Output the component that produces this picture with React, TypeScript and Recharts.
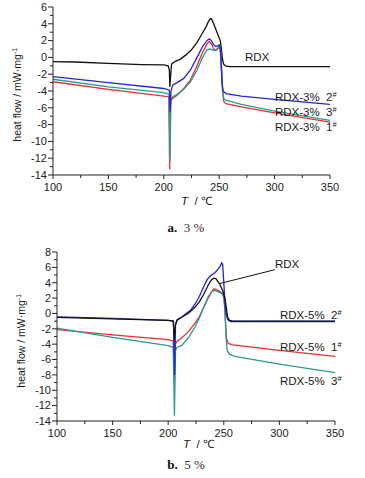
import React from 'react'
import { LineChart, Line, XAxis, YAxis, ReferenceLine } from 'recharts'

// x 轴刻度（主刻度 50，次刻度 25）
const X_TICKS = [100, 125, 150, 175, 200, 225, 250, 275, 300, 325, 350]
const Y_TICKS_A = Array.from({ length: 21 }, (_, i) => -14 + i)
const Y_TICKS_B = Array.from({ length: 23 }, (_, i) => -14 + i)

// ---- a. 3% ----
const T_A_RDX = [100, 120, 150, 180, 200, 204, 205, 205.5, 206, 207, 210, 215, 220, 225, 230, 234, 238, 240, 242, 243, 245, 248, 250, 251, 252, 253, 254, 256, 260, 300, 350]
const V_A_RDX = [-0.5, -0.55, -0.7, -0.85, -0.9, -1.0, -1.5, -3.5, -2.5, -0.8, -0.5, -0.2, 0.3, 0.9, 1.8, 2.7, 3.6, 4.2, 4.6, 4.6, 4.0, 3.0, 2.3, 2.0, 1.0, -0.2, -0.8, -1.05, -1.1, -1.1, -1.1]
const T_A_1 = [100, 150, 200, 204.5, 205.3, 206, 207, 208, 212, 218, 224, 230, 235, 239, 241, 243, 245, 247, 249, 251, 252, 253, 254, 256, 270, 300, 350]
const V_A_1 = [-2.9, -3.8, -4.6, -4.7, -13.3, -5.5, -5.0, -4.9, -4.5, -3.7, -2.7, -1.0, 0.6, 1.6, 1.9, 1.6, 1.0, 0.9, 1.1, 1.2, -1.0, -4.0, -5.2, -5.5, -5.9, -6.6, -7.7]
const T_A_2 = [100, 150, 200, 205, 205.8, 206.5, 208, 212, 218, 224, 230, 235, 239, 241, 243, 245, 247, 249, 250.5, 251.5, 252.5, 253.5, 256, 270, 300, 350]
const V_A_2 = [-2.3, -3.0, -3.7, -3.9, -6.5, -4.0, -3.3, -3.0, -2.5, -1.5, 0.0, 1.3, 2.0, 2.2, 2.0, 1.5, 1.3, 1.4, 1.5, 0.0, -3.0, -4.0, -4.3, -4.6, -5.0, -5.6]
const T_A_3 = [100, 150, 200, 204.8, 205.6, 206.4, 208, 212, 218, 224, 230, 235, 239, 242, 245, 248, 250, 251, 252, 253, 254, 256, 270, 300, 350]
const V_A_3 = [-2.6, -3.5, -4.2, -4.4, -12.4, -5.0, -4.7, -4.4, -3.8, -2.9, -1.5, 0.0, 0.9, 1.0, 0.8, 0.9, 1.4, 1.3, -1.0, -3.5, -4.9, -5.1, -5.6, -6.4, -7.5]

// ---- b. 5% ----
const T_B_RDX = [100, 150, 200, 204.5, 205.5, 206.5, 208, 212, 218, 224, 228, 232, 236, 239, 241, 243, 246, 249, 251, 252.5, 253.5, 255, 258, 350]
const V_B_RDX = [-0.5, -0.7, -0.9, -1.0, -3.5, -1.5, -0.8, -0.5, 0.0, 0.8, 1.5, 2.5, 3.7, 4.4, 4.6, 4.5, 3.9, 3.0, 2.0, 0.5, -0.5, -0.9, -1.0, -1.0]
const T_B_1 = [100, 150, 200, 204.5, 205.6, 206.5, 208, 212, 218, 224, 228, 232, 236, 239, 241, 243, 246, 249, 250.5, 251.5, 252.5, 254, 258, 300, 350]
const V_B_1 = [-2.1, -2.8, -3.4, -3.6, -9.0, -4.0, -3.6, -3.2, -2.4, -1.3, -0.4, 0.8, 2.0, 2.8, 3.2, 3.1, 2.9, 2.6, 1.5, -1.0, -3.3, -3.9, -4.1, -4.8, -5.6]
const T_B_2 = [100, 150, 200, 204.8, 205.7, 206.6, 208, 212, 216, 220, 224, 228, 232, 235, 238, 242, 245, 247, 248, 249, 250, 251, 252, 253.5, 256, 350]
const V_B_2 = [-0.45, -0.65, -0.9, -1.0, -8.0, -1.5, -0.9, -0.5, 0.0, 0.4, 1.2, 2.2, 3.5, 4.4, 4.9, 5.3, 5.8, 6.2, 6.6, 6.4, 4.0, 1.5, 0.0, -0.8, -1.05, -1.05]
const T_B_3 = [100, 150, 200, 204.5, 205.6, 206.6, 208, 212, 218, 224, 228, 232, 236, 239, 242, 245, 248, 250, 251, 252, 253, 255, 260, 300, 350]
const V_B_3 = [-1.9, -3.1, -4.2, -4.4, -13.3, -4.8, -4.4, -4.2, -3.2, -1.8, -0.6, 0.8, 2.2, 2.8, 3.0, 2.8, 2.6, 2.2, 0.5, -3.0, -4.8, -5.3, -5.6, -6.6, -7.7]

// RDX 引出线（数据坐标）
const LEADER_B = [{ x: 246.6, y: 3.9 }, { x: 296, y: 5.7 }]

const C_BLACK = '#111'
const C_RED = '#e8302e'
const C_BLUE = '#2323d8'
const C_TEAL = '#2a9a92'

const zip = (t: number[], v: number[]) => t.map((x, i) => ({ t: x, v: v[i] }))

type Series = { key: string; data: { t: number; v: number }[]; color: string }

const SERIES_A: Series[] = [
  { key: 'rdx', data: zip(T_A_RDX, V_A_RDX), color: C_BLACK },
  { key: 's1', data: zip(T_A_1, V_A_1), color: C_RED },
  { key: 's3', data: zip(T_A_3, V_A_3), color: C_TEAL },
  { key: 's2', data: zip(T_A_2, V_A_2), color: C_BLUE },
]
const SERIES_B: Series[] = [
  { key: 's1', data: zip(T_B_1, V_B_1), color: C_RED },
  { key: 's3', data: zip(T_B_3, V_B_3), color: C_TEAL },
  { key: 's2', data: zip(T_B_2, V_B_2), color: C_BLUE },
  { key: 'rdx', data: zip(T_B_RDX, V_B_RDX), color: C_BLACK },
]

const FONT = '"Liberation Sans", Arial, sans-serif'

const XTick = (props: any) => {
  const { x, y, payload } = props
  const major = payload.value % 50 === 0
  return (
    <g>
      <line x1={x} x2={x} y1={y} y2={y + (major ? 4 : 3)} stroke="#222" />
      {major && (
        <text x={x} y={y + 16} textAnchor="middle" fontSize={11} fontFamily={FONT} fill="#222">{payload.value}</text>
      )}
    </g>
  )
}

const YTick = (props: any) => {
  const { x, y, payload } = props
  const major = payload.value % 2 === 0
  return (
    <g>
      <line x1={x} x2={x - (major ? 5 : 3)} y1={y} y2={y} stroke="#222" />
      {major && (
        <text x={x - 6} y={y} dy="0.35em" textAnchor="end" fontSize={11} fontFamily={FONT} fill="#222">{payload.value}</text>
      )}
    </g>
  )
}

function DscChart({ series, yDomain, yTicks, margin, xHeight, leader }: {
  series: Series[]; yDomain: [number, number]; yTicks: number[]
  margin: { top: number; right: number; bottom: number; left: number }; xHeight: number
  leader?: { x: number; y: number }[]
}) {
  return (
    <LineChart width={365} height={215} margin={margin}>
      <XAxis type="number" dataKey="t" domain={[100, 350]} ticks={X_TICKS} interval={0}
        tickLine={false} tickSize={0} tickMargin={0} tick={<XTick />} stroke="#222" height={xHeight} allowDataOverflow />
      <YAxis type="number" domain={yDomain} ticks={yTicks} interval={0}
        tickLine={false} tickSize={0} tickMargin={0} tick={<YTick />} stroke="#222" width={45} allowDataOverflow />
      {series.map((s) => (
        <Line key={s.key} data={s.data} dataKey="v" type="linear" stroke={s.color} strokeWidth={1.3}
          dot={false} activeDot={false} isAnimationActive={false} />
      ))}
      {leader && <ReferenceLine segment={leader} stroke="#111" strokeWidth={1} />}
    </LineChart>
  )
}

const Txt = ({ left, top, size = 11.5, children, style }: any) => (
  <div style={{ position: 'absolute', left, top: top - size / 2, fontSize: size, lineHeight: 1, fontFamily: FONT, color: '#1a1a1a', whiteSpace: 'nowrap', ...style }}>
    {children}
  </div>
)

const Sup = ({ children }: any) => <sup style={{ fontSize: '0.65em', verticalAlign: '0.55em' }}>{children}</sup>

const YLabel = ({ cx, cy }: { cx: number; cy: number }) => (
  <div style={{ position: 'absolute', left: cx - 60, top: cy - 6, width: 120, textAlign: 'center', fontSize: 10.5, lineHeight: '12px', fontFamily: FONT, color: '#1a1a1a', transform: 'rotate(-90deg)', whiteSpace: 'nowrap' }}>
    heat flow / mW·mg<Sup>-1</Sup>
  </div>
)

const XLabel = ({ left, top }: { left: number; top: number }) => (
  <Txt left={left} top={top} size={11.5}><i>T</i>&nbsp; / ℃</Txt>
)

const Caption = ({ top, tag, pct }: { top: number; tag: string; pct: string }) => (
  <div style={{ position: 'absolute', left: 0, width: 372, top: top - 7, textAlign: 'center', fontFamily: '"Liberation Serif", "Times New Roman", serif', fontSize: 13, lineHeight: 1, color: '#111' }}>
    <b>{tag}</b>&nbsp; <span style={{ color: '#3a2a1a' }}>{pct}</span>
  </div>
)

export default function App() {
  return (
    <div style={{ position: 'absolute', left: 0, top: 0, width: 365, height: 478, background: '#fff', overflow: 'hidden' }}>
      <div style={{ position: 'absolute', left: 0, top: 0 }}>
        <DscChart series={SERIES_A} yDomain={[-14, 6]} yTicks={Y_TICKS_A}
          margin={{ top: 7, right: 35, bottom: 10, left: 8 }} xHeight={30} />
      </div>
      <div style={{ position: 'absolute', left: 0, top: 235 }}>
        <DscChart series={SERIES_B} yDomain={[-14, 8]} yTicks={Y_TICKS_B}
          margin={{ top: 17, right: 30, bottom: 4, left: 12 }} xHeight={25} leader={LEADER_B} />
      </div>

      {/* a. 3% */}
      <YLabel cx={16} cy={94} />
      <XLabel left={181} top={202} />
      <Txt left={245} top={58}>RDX</Txt>
      <Txt left={275} top={97}>RDX-3%&nbsp; 2<Sup>#</Sup></Txt>
      <Txt left={275} top={112}>RDX-3%&nbsp; 3<Sup>#</Sup></Txt>
      <Txt left={275} top={127}>RDX-3%&nbsp; 1<Sup>#</Sup></Txt>
      <Caption top={228} tag="a." pct="3 %" />

      {/* b. 5% */}
      <YLabel cx={20} cy={340} />
      <XLabel left={183} top={445} />
      <Txt left={275} top={265}>RDX</Txt>
      <Txt left={280} top={315}>RDX-5%&nbsp; 2<Sup>#</Sup></Txt>
      <Txt left={280} top={347}>RDX-5%&nbsp; 1<Sup>#</Sup></Txt>
      <Txt left={280} top={381}>RDX-5%&nbsp; 3<Sup>#</Sup></Txt>
      <Caption top={465} tag="b." pct="5 %" />
    </div>
  )
}
